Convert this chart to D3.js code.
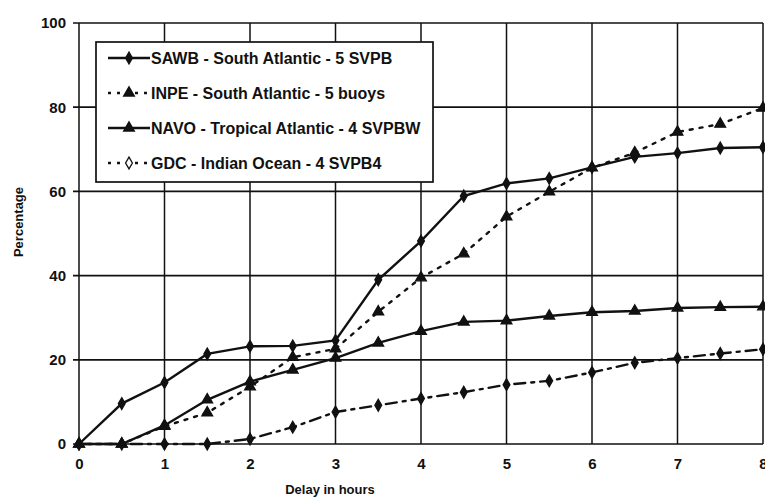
<!DOCTYPE html>
<html lang="en">
<head>
<meta charset="UTF-8" />
<title>Delay in hours</title>
<style>
  body { margin: 0; background: #fff; }
  svg text { font-family: "Liberation Sans", Arial, sans-serif; font-weight: bold; fill: #111; }
</style>
</head>
<body>
<div id="chart"></div>
<script src="https://d3js.org/d3.v7.min.js"></script>
<script>
// delay values (hours)
const hours = [0, 0.5, 1, 1.5, 2, 2.5, 3, 3.5, 4, 4.5, 5, 5.5, 6, 6.5, 7, 7.5, 8];
const sawb = [0, 9.6, 14.6, 21.4, 23.2, 23.3, 24.6, 39, 48.2, 58.9, 61.9, 63.1, 65.7, 68.2, 69.1, 70.3, 70.5];
const inpe = [0, 0, 4.2, 7.4, 13.6, 20.6, 22.6, 31.4, 39.5, 45.2, 54, 59.9, 65.6, 69.2, 74.1, 76, 79.8];
const navo = [0, 0, 4.4, 10.5, 14.8, 17.6, 20.4, 24, 26.8, 29, 29.3, 30.4, 31.3, 31.6, 32.3, 32.5, 32.6];
const gdc = [0, 0, 0, 0, 1.2, 4, 7.6, 9.2, 10.8, 12.3, 14.1, 15, 17, 19.3, 20.4, 21.5, 22.5];
const seriesNames = [
  "SAWB - South Atlantic - 5 SVPB",
  "INPE - South Atlantic - 5 buoys",
  "NAVO - Tropical Atlantic - 4 SVPBW",
  "GDC - Indian Ocean - 4 SVPB4"
];
const xTicks = [0, 1, 2, 3, 4, 5, 6, 7, 8];
const yTicks = [0, 20, 40, 60, 80, 100];

const W = 765, H = 501;
const m = { left: 79, right: 2, top: 23, bottom: 57 };

const svg = d3.select("#chart").append("svg").attr("width", W).attr("height", H);

const x = d3.scaleLinear().domain([0, 8]).range([m.left, W - m.right]);
const y = d3.scaleLinear().domain([0, 100]).range([H - m.bottom, m.top]);

// gridlines
const g = svg.append("g");
g.selectAll(".vg").data(xTicks).join("line")
  .attr("x1", d => x(d)).attr("x2", d => x(d))
  .attr("y1", y(0)).attr("y2", y(100))
  .attr("stroke", "#111").attr("stroke-width", 1.5);
g.selectAll(".hg").data(yTicks).join("line")
  .attr("x1", x(0) - 6).attr("x2", x(8))
  .attr("y1", d => y(d)).attr("y2", d => y(d))
  .attr("stroke", "#111").attr("stroke-width", 1.7);

// axes labels
const xAxis = d3.axisBottom(x).tickValues(xTicks).tickSize(0).tickPadding(14);
svg.append("g").attr("transform", `translate(0,${y(0)})`).call(xAxis)
  .call(s => s.select(".domain").remove())
  .selectAll("text").style("font-size", "15px");
const yAxis = d3.axisLeft(y).tickValues(yTicks).tickSize(0).tickPadding(13);
svg.append("g").attr("transform", `translate(${x(0)},0)`).call(yAxis)
  .call(s => s.select(".domain").remove())
  .selectAll("text").style("font-size", "15px");

svg.append("text").attr("x", 330).attr("y", 494)
  .attr("text-anchor", "middle").style("font-size", "13px").text("Delay in hours");
svg.append("text").attr("transform", "translate(23,222) rotate(-90)")
  .attr("text-anchor", "middle").style("font-size", "13px").text("Percentage");

// series
const series = [
  { name: seriesNames[0], values: sawb, dash: null, marker: "diamond", fill: "#111", legFill: "#111" },
  { name: seriesNames[1], values: inpe, dash: "3,7", marker: "triangle", fill: "#111", legFill: "#111" },
  { name: seriesNames[2], values: navo, dash: null, marker: "triangle", fill: "#111", legFill: "#111" },
  { name: seriesNames[3], values: gdc, dash: "11,6,3,6", marker: "diamond", fill: "#111", legFill: "#fff" }
];

const line = d3.line().x((d, i) => x(hours[i])).y(d => y(d));
const symbols = { diamond: d3.symbol().type(d3.symbolDiamond).size(40), triangle: d3.symbol().type(d3.symbolTriangle).size(50) };

series.forEach(s => {
  svg.append("path").datum(s.values).attr("d", line)
    .attr("fill", "none").attr("stroke", "#111").attr("stroke-width", 2.4)
    .attr("stroke-linecap", "round")
    .attr("stroke-dasharray", s.dash);
  svg.append("g").selectAll("path").data(s.values).join("path")
    .attr("transform", (d, i) => `translate(${x(hours[i])},${y(d)})`)
    .attr("d", symbols[s.marker])
    .attr("fill", s.fill).attr("stroke", "#111").attr("stroke-width", 1.3);
});

// legend
const lg = svg.append("g").attr("transform", "translate(96,42)");
lg.append("rect").attr("width", 337).attr("height", 140)
  .attr("fill", "#fff").attr("stroke", "#111").attr("stroke-width", 1.7);
const rowY = d3.scalePoint().domain(seriesNames).range([16, 121]);
series.forEach(s => {
  const yy = rowY(s.name);
  lg.append("line").attr("x1", 12).attr("x2", 54).attr("y1", yy).attr("y2", yy)
    .attr("stroke", "#111").attr("stroke-width", 2.4).attr("stroke-dasharray", s.dash ? "3,6" : null);
  lg.append("path").attr("transform", `translate(33,${yy})`).attr("d", symbols[s.marker])
    .attr("fill", s.legFill).attr("stroke", "#111").attr("stroke-width", 1.3);
  lg.append("text").attr("x", 55).attr("y", yy + 6).style("font-size", "16px").text(s.name);
});
</script>
</body>
</html>
